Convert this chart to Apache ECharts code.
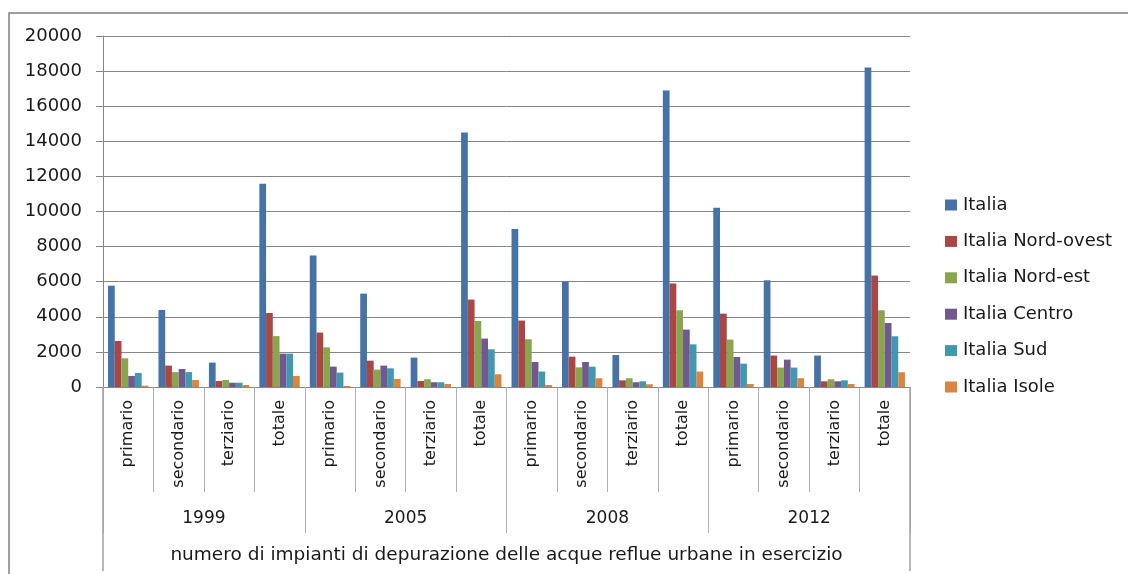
<!DOCTYPE html>
<html>
<head>
<meta charset="utf-8">
<script src="https://cdn.jsdelivr.net/npm/echarts@6/dist/echarts.min.js"></script>
<style>
html,body{margin:0;padding:0;background:#fff;}
#chart{width:1128px;height:574px;}
</style>
</head>
<body>
<div id="chart"></div>
<script>
const treatments = ['primario', 'secondario', 'terziario', 'totale'];
const years = ['1999', '2005', '2008', '2012'];
const axisTitle = ['numero di impianti di depurazione delle acque reflue urbane in esercizio'];
const seriesNames = ['Italia', 'Italia Nord-ovest', 'Italia Nord-est', 'Italia Centro', 'Italia Sud', 'Italia Isole'];

const italia    = [5770, 4390, 1390, 11580, 7490, 5320, 1675, 14500, 9000, 6010, 1825, 16900, 10220, 6080, 1790, 18200];
const nordOvest = [2620, 1220, 340, 4215, 3100, 1500, 340, 4980, 3785, 1730, 380, 5900, 4180, 1790, 325, 6350];
const nordEst   = [1635, 850, 400, 2900, 2260, 990, 440, 3760, 2720, 1120, 500, 4370, 2700, 1105, 440, 4370];
const centro    = [630, 1025, 245, 1900, 1160, 1220, 270, 2760, 1425, 1425, 270, 3270, 1710, 1560, 325, 3650];
const sud       = [800, 850, 245, 1900, 820, 1065, 270, 2150, 880, 1160, 325, 2430, 1330, 1105, 380, 2890];
const isole     = [75, 400, 115, 630, 60, 460, 170, 725, 115, 500, 155, 880, 170, 500, 170, 840];

const colors = ['#4572A7', '#AA4643', '#89A54E', '#71588F', '#4198AF', '#DB843D'];
const seriesData = [italia, nordOvest, nordEst, centro, sud, isole];

const categories = [];
years.forEach(function () { treatments.forEach(function (t) { categories.push(t); }); });

const FONT = 'DejaVu Sans';
const gray = '#868686';

const chart = echarts.init(document.getElementById('chart'), null, {renderer: 'canvas'});
chart.setOption({
  animation: false,
  backgroundColor: '#ffffff',
  color: colors,
  textStyle: {fontFamily: FONT},
  graphic: [{
    type: 'rect',
    shape: {x: 9, y: 13, width: 1300, height: 700},
    style: {fill: 'none', stroke: '#808080', lineWidth: 1.5},
    silent: true,
    z: -1
  }],
  grid: {left: 103, right: 218, top: 36, bottom: 187, containLabel: false},
  legend: {
    orient: 'vertical',
    left: 945,
    top: 196,
    padding: 0,
    itemWidth: 12,
    itemHeight: 11,
    itemGap: 18.4,
    icon: 'rect',
    textStyle: {fontFamily: FONT, fontSize: 18, color: '#1a1a1a', padding: [0, 0, 0, 1]},
    data: seriesNames
  },
  xAxis: [
    {
      type: 'category',
      data: categories,
      position: 'bottom',
      axisLine: {show: true, lineStyle: {color: gray, width: 1}},
      axisTick: {show: true, interval: 0, length: 105, lineStyle: {color: '#b0b0b0', width: 1}},
      axisLabel: {interval: 0, rotate: 90, margin: 13, fontFamily: FONT, fontSize: 16, color: '#1a1a1a'},
      splitLine: {show: false}
    },
    {
      type: 'category',
      data: years,
      position: 'bottom',
      axisLine: {show: false},
      axisTick: {show: true, interval: 0, length: 146, lineStyle: {color: '#b0b0b0', width: 1}},
      axisLabel: {interval: 0, margin: 123, fontFamily: FONT, fontSize: 17, color: '#1a1a1a'},
      splitLine: {show: false}
    },
    {
      type: 'category',
      data: axisTitle,
      position: 'bottom',
      axisLine: {show: false},
      axisTick: {show: true, interval: 0, length: 184, lineStyle: {color: '#a0a0a0', width: 1.5}},
      axisLabel: {interval: 0, margin: 159, fontFamily: FONT, fontSize: 18.5, color: '#1a1a1a'},
      splitLine: {show: false}
    }
  ],
  yAxis: {
    type: 'value',
    min: 0,
    max: 20000,
    interval: 2000,
    axisLine: {show: true, lineStyle: {color: gray, width: 1}},
    axisTick: {show: true, length: 7, lineStyle: {color: gray}},
    axisLabel: {fontFamily: FONT, fontSize: 18, color: '#1a1a1a', margin: 21, formatter: function (v) { return String(v); }},
    splitLine: {show: true, lineStyle: {color: gray, width: 1}}
  },
  series: seriesNames.map(function (name, i) {
    return {
      name: name,
      type: 'bar',
      xAxisIndex: 0,
      data: seriesData[i],
      barGap: '0%',
      barCategoryGap: '20%',
      itemStyle: {color: colors[i]}
    };
  })
});
</script>
</body>
</html>
